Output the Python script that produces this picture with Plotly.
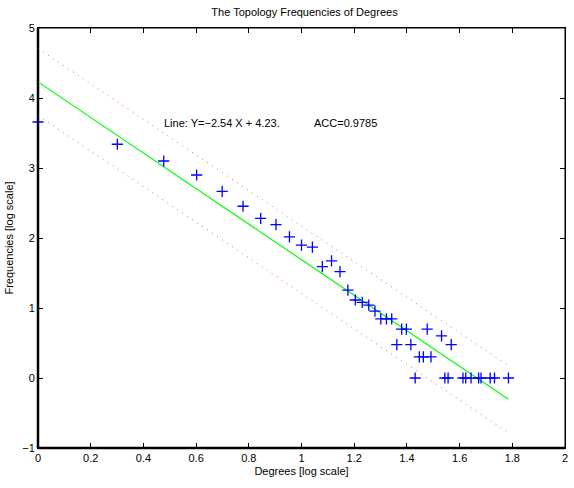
import numpy as np
import plotly.graph_objects as go

# Data (degree, frequency count)
degrees = [1, 2, 3, 4, 5, 6, 7, 8, 9, 10, 11, 12, 13, 14, 15, 16, 17, 18, 19,
           20, 21, 22, 23, 24, 25, 26, 27, 28, 29, 30, 31, 34, 35, 36, 37,
           41, 42, 44, 47, 48, 52, 54, 61]
counts = [4540, 2183, 1259, 794, 464, 284, 191, 155, 104, 79, 74, 39, 47, 33, 18, 13, 12, 11, 9,
          7, 7, 7, 3, 5, 5, 3, 1, 2, 2, 5, 2, 4, 1, 1, 3,
          1, 1, 1, 1, 1, 1, 1, 1]

fit_slope = -2.54
fit_intercept = 4.23
fit_band = 0.48
acc = 0.9785

x_ticks = [0, 0.2, 0.4, 0.6, 0.8, 1, 1.2, 1.4, 1.6, 1.8, 2]
y_ticks = [-1, 0, 1, 2, 3, 4, 5]

title_text = "The Topology Frequencies of Degrees"
x_label = "Degrees [log scale]"
y_label = "Frequencies [log scale]"

lx = np.log10(degrees)
ly = np.log10(counts)

x_line = np.array([lx.min(), lx.max()])
y_line = fit_slope * x_line + fit_intercept

FONT = "Liberation Sans, Arial, Helvetica, sans-serif"

fig = go.Figure()

fig.add_trace(go.Scatter(
    x=x_line, y=y_line + fit_band, mode="lines",
    line=dict(color="rgb(255,90,90)", width=1, dash="1px,5px"),
    showlegend=False, hoverinfo="skip"))
fig.add_trace(go.Scatter(
    x=x_line, y=y_line - fit_band, mode="lines",
    line=dict(color="rgb(255,90,90)", width=1, dash="1px,5px"),
    showlegend=False, hoverinfo="skip"))
fig.add_trace(go.Scatter(
    x=x_line, y=y_line, mode="lines",
    line=dict(color="#00ff00", width=1.2),
    showlegend=False))
fig.add_trace(go.Scatter(
    x=lx, y=ly, mode="markers", cliponaxis=False,
    marker=dict(symbol="cross-thin", size=8, line=dict(color="#0000ff", width=1.3), color="#0000ff"),
    showlegend=False))

axis_common = dict(showgrid=False, zeroline=False, ticks="inside", ticklen=5,
                   tickcolor="black", tickfont=dict(family=FONT, size=11, color="black"),
                   showline=True, linecolor="black", linewidth=1, mirror="ticks",
                   ticklabeloverflow="allow")

fig.update_layout(
    width=574, height=488,
    margin=dict(l=38, r=6, t=28, b=40),
    paper_bgcolor="white", plot_bgcolor="white",
    font=dict(family=FONT, size=11, color="black"),
    title=dict(text=title_text, x=0.5305, xanchor="center", y=1 - 12 / 488, yanchor="middle",
               font=dict(family=FONT, size=11, color="black")),
    xaxis=dict(range=[0, 2], tickvals=x_ticks, ticktext=[f"{v:g}" for v in x_ticks],
               title=dict(text=x_label, standoff=4, font=dict(size=11)), **axis_common),
    yaxis=dict(range=[-1, 5], tickvals=y_ticks,
               title=dict(text=y_label, standoff=6, font=dict(size=11)), **axis_common),
    shapes=[
        dict(type="rect", xref="x domain", yref="y domain", x0=0, x1=1, y0=0, y1=1,
             line=dict(color="black", width=1), layer="above"),
        dict(type="line", xref="x domain", yref="y domain", x0=0, x1=0, y0=0, y1=1,
             line=dict(color="black", width=2.5), layer="below"),
        dict(type="line", xref="x domain", yref="y domain", x0=0, x1=1, y0=0, y1=0,
             line=dict(color="black", width=2.5), layer="below"),
    ],
    annotations=[
        dict(x=0.47, y=3.64, xref="x", yref="y", xanchor="left", yanchor="middle",
             text=f"Line: Y=\u2212{abs(fit_slope):.2f} X + {fit_intercept:.2f}.", showarrow=False,
             font=dict(family=FONT, size=11, color="black")),
        dict(x=1.04, y=3.64, xref="x", yref="y", xanchor="left", yanchor="middle",
             text=f"ACC={acc}", showarrow=False,
             font=dict(family=FONT, size=11, color="black")),
    ],
)

fig.write_html("out.html")
